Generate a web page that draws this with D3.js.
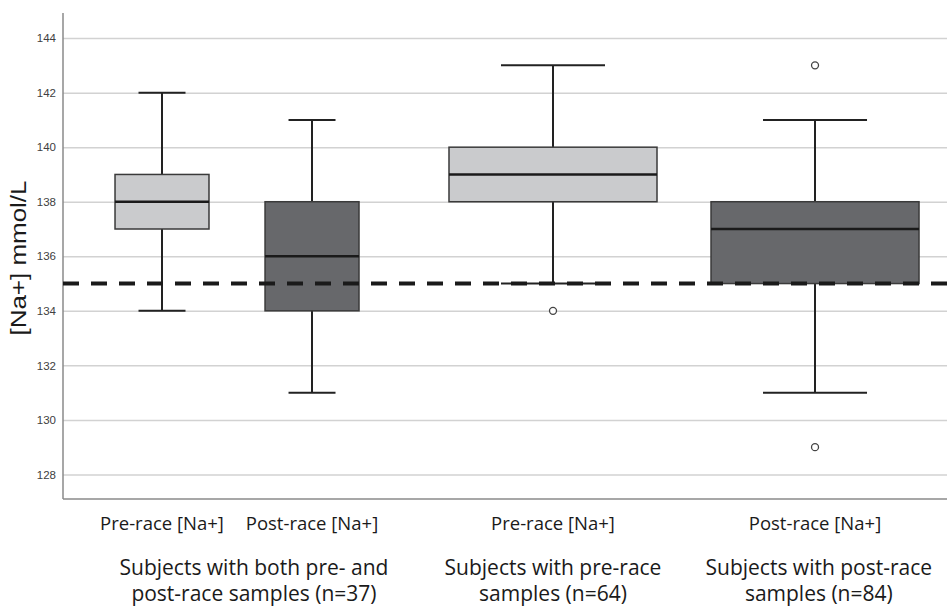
<!DOCTYPE html>
<html>
<head>
<meta charset="utf-8">
<script src="https://cdn.jsdelivr.net/npm/d3@7"></script>
<style>
  html, body { margin: 0; padding: 0; background: #fff; }
  svg { display: block; }
</style>
</head>
<body>
<svg id="chart" width="947" height="606"></svg>
<script>
// ---------------- DATA ----------------
const categories = ["Pre-race [Na+]", "Post-race [Na+]", "Pre-race [Na+]", "Post-race [Na+]"];
const seriesType = ["pre", "post", "pre", "post"];
const whiskerLow = [134, 131, 135, 131];
const q1 = [137, 134, 138, 135];
const median = [138, 136, 139, 137];
const q3 = [139, 138, 140, 138];
const whiskerHigh = [142, 141, 143, 141];
const outliers = [[], [], [134], [143, 129]];
const groupLabels = [
  ["Subjects with both pre- and", "post-race samples (n=37)"],
  ["Subjects with pre-race", "samples (n=64)"],
  ["Subjects with post-race", "samples (n=84)"]
];
const yTicks = [128, 130, 132, 134, 136, 138, 140, 142, 144];
const referenceValue = 135;
const yTitle = "[Na+] mmol/L";

// ---------------- LAYOUT ----------------
const plot = { left: 63, right: 947, top: 13, bottom: 499 };
const slotCenter = [0.112, 0.2817, 0.5543, 0.8507];   // fraction of plot width
const slotWidth = [0.1063, 0.1063, 0.2353, 0.2353];
const groupCenter = [0.216, 0.5543, 0.855];
const fills = { pre: "#cacbcd", post: "#67686b" };

const svg = d3.select("#chart");
const x = d3.scaleLinear().domain([0, 1]).range([plot.left, plot.right]);
const y = d3.scaleLinear().domain([127.1, 144.92]).range([plot.bottom, plot.top]);

// gridlines + tick labels
const yAxis = d3.axisLeft(y).tickValues(yTicks).tickSize(-(plot.right - plot.left)).tickPadding(6).tickFormat(d3.format("d"));
const gy = svg.append("g").attr("transform", `translate(${plot.left},0)`).call(yAxis);
gy.select(".domain").remove();
gy.selectAll(".tick line").attr("stroke", "#d2d2d2").attr("stroke-width", 1.5);
gy.selectAll(".tick text")
  .attr("fill", "#404040")
  .attr("font-family", "'Liberation Sans', Arial, sans-serif")
  .attr("font-size", 11.5)
  .attr("dx", -1);

// axis lines
svg.append("line").attr("x1", plot.left).attr("x2", plot.left).attr("y1", plot.top).attr("y2", plot.bottom)
  .attr("stroke", "#8a8a8a").attr("stroke-width", 1.5);
svg.append("line").attr("x1", plot.left).attr("x2", plot.right).attr("y1", plot.bottom).attr("y2", plot.bottom)
  .attr("stroke", "#8a8a8a").attr("stroke-width", 1.5);

// boxes
const boxes = categories.map((c, i) => ({
  i, cat: c, type: seriesType[i], lo: whiskerLow[i], q1: q1[i], med: median[i], q3: q3[i], hi: whiskerHigh[i], out: outliers[i]
}));

const bg = svg.append("g");
boxes.forEach(b => {
  const cx = x(slotCenter[b.i]);
  const w = x(slotWidth[b.i]) - x(0);
  const g = bg.append("g");
  g.append("line").attr("x1", cx).attr("x2", cx).attr("y1", y(b.hi)).attr("y2", y(b.q3))
    .attr("stroke", "#222").attr("stroke-width", 2);
  g.append("line").attr("x1", cx).attr("x2", cx).attr("y1", y(b.q1)).attr("y2", y(b.lo))
    .attr("stroke", "#222").attr("stroke-width", 2);
  [b.hi, b.lo].forEach(v => {
    g.append("line").attr("x1", cx - w / 4).attr("x2", cx + w / 4).attr("y1", y(v)).attr("y2", y(v))
      .attr("stroke", "#222").attr("stroke-width", 2);
  });
  g.append("rect").attr("x", cx - w / 2).attr("width", w).attr("y", y(b.q3)).attr("height", y(b.q1) - y(b.q3))
    .attr("fill", fills[b.type]).attr("stroke", "#3a3a3a").attr("stroke-width", 1.5);
  g.append("line").attr("x1", cx - w / 2).attr("x2", cx + w / 2).attr("y1", y(b.med)).attr("y2", y(b.med))
    .attr("stroke", "#1a1a1a").attr("stroke-width", 2.5);
  b.out.forEach(v => {
    g.append("circle").attr("cx", cx).attr("cy", y(v)).attr("r", 3.5)
      .attr("fill", "#fff").attr("stroke", "#444").attr("stroke-width", 1.3);
  });
});

// reference line
svg.append("line").attr("x1", plot.left).attr("x2", plot.right)
  .attr("y1", y(referenceValue)).attr("y2", y(referenceValue))
  .attr("stroke", "#1a1a1a").attr("stroke-width", 4).attr("stroke-dasharray", "16,12");

// category labels
svg.append("g").selectAll("text").data(boxes).join("text")
  .attr("x", d => x(slotCenter[d.i]))
  .attr("y", 530)
  .attr("text-anchor", "middle")
  .attr("font-family", "'Open Sans', sans-serif")
  .attr("font-size", 18.5)
  .attr("fill", "#1a1a1a")
  .text(d => d.cat);

// group labels
const gl = svg.append("g");
groupLabels.forEach((lines, gi) => {
  lines.forEach((t, li) => {
    gl.append("text")
      .attr("x", x(groupCenter[gi]))
      .attr("y", 575 + li * 26)
      .attr("text-anchor", "middle")
      .attr("font-family", "'Open Sans', sans-serif")
      .attr("font-size", 21)
      .attr("fill", "#1a1a1a")
      .text(t);
  });
});

// y title
svg.append("text")
  .attr("transform", `translate(26,258) rotate(-90)`)
  .attr("text-anchor", "middle")
  .attr("font-family", "'Liberation Sans', Arial, sans-serif")
  .attr("font-size", 22)
  .attr("textLength", 155)
  .attr("lengthAdjust", "spacingAndGlyphs")
  .attr("fill", "#1a1a1a")
  .text(yTitle);
</script>
</body>
</html>
